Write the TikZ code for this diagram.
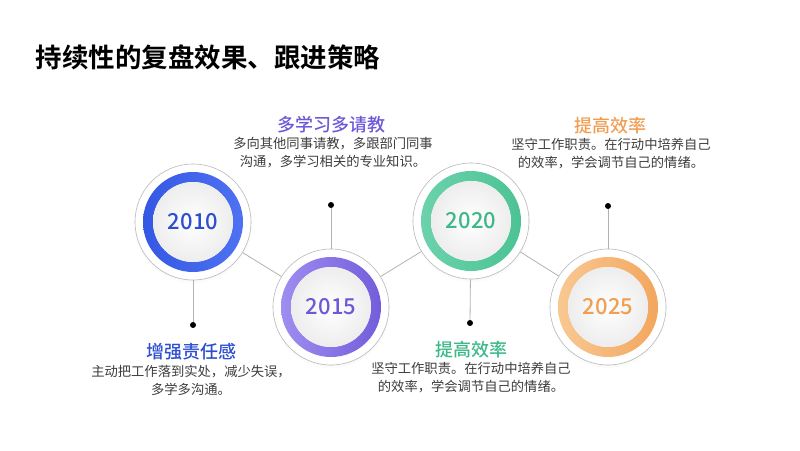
\documentclass[tikz,border=0pt]{standalone}
\usepackage{fontspec}
\setmainfont{Noto Sans CJK SC}[BoldFont={Noto Sans CJK SC Bold}]
\newfontfamily\cjkmed{Noto Sans CJK SC Medium}
\usetikzlibrary{shadows}
\definecolor{blueL}{HTML}{3558E4}
\definecolor{blueR}{HTML}{4E72F2}
\definecolor{blueT}{HTML}{2C4FCF}
\definecolor{purpL}{HTML}{9F8DF0}
\definecolor{purpR}{HTML}{735DDB}
\definecolor{purpT}{HTML}{6E58D8}
\definecolor{greenL}{HTML}{6BD2AC}
\definecolor{greenR}{HTML}{4CC394}
\definecolor{greenT}{HTML}{3DB888}
\definecolor{orangL}{HTML}{F9C892}
\definecolor{orangR}{HTML}{F3A65E}
\definecolor{orangT}{HTML}{F09E52}
\definecolor{bodygray}{HTML}{3C3C3C}
\tikzstyle{disc}    = [circle, minimum size=116pt, inner sep=0pt, fill=white, draw=black!28, line width=0.6pt, circular drop shadow={shadow xshift=0pt, shadow yshift=-2pt, shadow scale=1.03, opacity=0.12}]
\tikzstyle{year}    = [font=\cjkmed\fontsize{22}{24}\selectfont]
\tikzstyle{head}    = [font=\cjkmed\fontsize{18}{20}\selectfont]
\tikzstyle{body}    = [font=\fontsize{13.3}{18}\selectfont, text=bodygray, align=center]
\tikzstyle{link}    = [draw=black!30, line width=0.8pt]
\tikzstyle{dot}     = [circle, fill=black, minimum size=6pt, inner sep=0pt]

\begin{document}
\begin{tikzpicture}[x=1pt, y=-1pt]
    \useasboundingbox (0,0) rectangle (800,450);
    % 标题
    \node (title) [anchor=west, font=\fontsize{26.5}{30}\selectfont\bfseries] at (32,57) {持续性的复盘效果、跟进策略};

    % 四个年份圆盘
    \node (y2010) [disc] at (193,222) {};
    \node (y2015) [disc] at (331,307) {};
    \node (y2020) [disc] at (471,221) {};
    \node (y2025) [disc] at (608,307) {};

    % 圆盘之间的连线
    \draw [link] (y2010) -- (y2015);
    \draw [link] (y2015) -- (y2020);
    \draw [link] (y2020) -- (y2025);

    % 彩色圆环
    \shade [left color=blueL, right color=blueR, even odd rule] (y2010) circle (50) (y2010) circle (40);
    \shade [left color=purpL, right color=purpR, even odd rule] (y2015) circle (50) (y2015) circle (40);
    \shade [left color=greenL, right color=greenR, even odd rule] (y2020) circle (50) (y2020) circle (40);
    \shade [left color=orangL, right color=orangR, even odd rule] (y2025) circle (50) (y2025) circle (40);

    % 内部浅色圆
    \shade [inner color=white, outer color=black!7] (y2010) circle (40);
    \shade [inner color=white, outer color=black!7] (y2015) circle (40);
    \shade [inner color=white, outer color=black!7] (y2020) circle (40);
    \shade [inner color=white, outer color=black!7] (y2025) circle (40);

    % 年份文字
    \node (t2010) [year, text=blueT]  at (y2010) {2010};
    \node (t2015) [year, text=purpT]  at (y2015) {2015};
    \node (t2020) [year, text=greenT] at (y2020) {2020};
    \node (t2025) [year, text=orangT] at (y2025) {2025};

    % 引线端点
    \node (d2010) [dot] at (193,325) {};
    \node (d2015) [dot] at (331,205) {};
    \node (d2020) [dot] at (470,323) {};
    \node (d2025) [dot] at (608,206) {};
    \draw [link] (y2010) -- (d2010);
    \draw [link] (y2015) -- (d2015);
    \draw [link] (y2020) -- (d2020);
    \draw [link] (y2025) -- (d2025);

    % 说明文字
    \node (h2010) [head, text=blueT] at (191,352) {增强责任感};
    \node (b2010) [body] at (191,380) {主动把工作落到实处，减少失误，\\多学多沟通。};

    \node (h2015) [head, text=purpT] at (331,125) {多学习多请教};
    \node (b2015) [body] at (333,153) {多向其他同事请教，多跟部门同事\\沟通，多学习相关的专业知识。};

    \node (h2020) [head, text=greenT] at (471,350) {提高效率};
    \node (b2020) [body] at (471,378) {坚守工作职责。在行动中培养自己\\的效率，学会调节自己的情绪。};

    \node (h2025) [head, text=orangT] at (610,126) {提高效率};
    \node (b2025) [body] at (611,154) {坚守工作职责。在行动中培养自己\\的效率，学会调节自己的情绪。};
\end{tikzpicture}
\end{document}
